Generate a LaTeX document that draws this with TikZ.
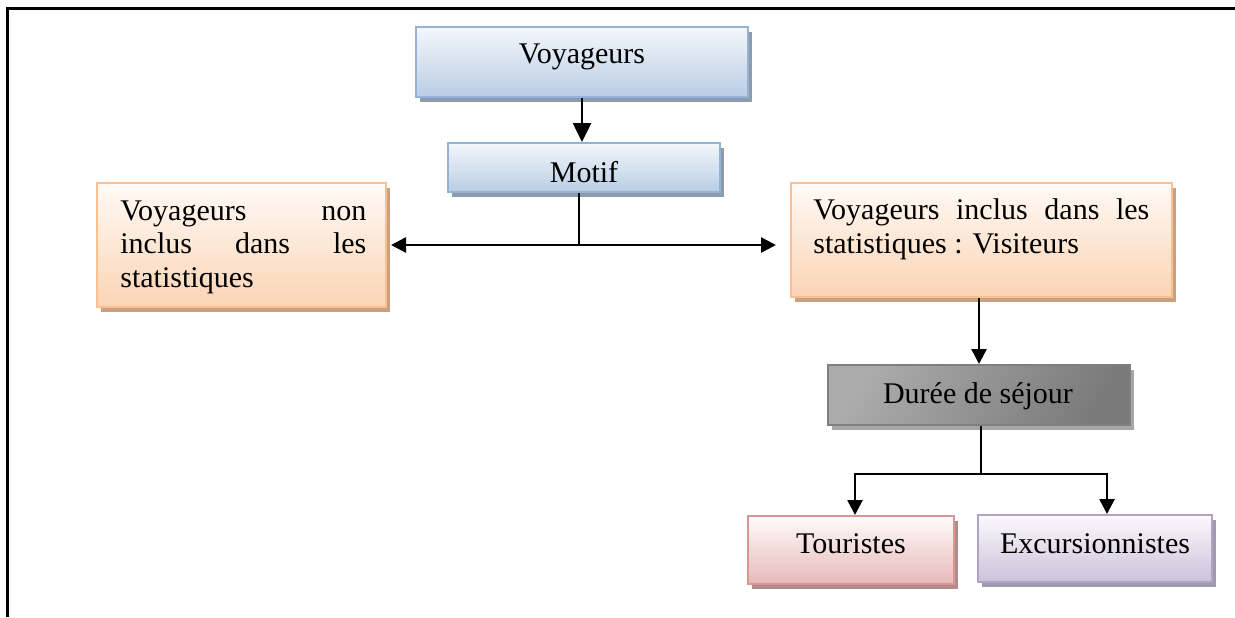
\documentclass[tikz,border=0pt]{standalone}
\usepackage{fontspec}
\setmainfont{Liberation Serif}
\usetikzlibrary{arrows.meta,shadows,calc}
\definecolor{bluebd}{HTML}{95B3D7}
\definecolor{bluebt}{HTML}{B9CDE5}
\definecolor{bluetp}{HTML}{F4F7FB}
\definecolor{bluesh}{HTML}{8E9BAD}
\definecolor{orbd}{HTML}{FAC090}
\definecolor{orbt}{HTML}{FBD4B4}
\definecolor{ortp}{HTML}{FFFAF6}
\definecolor{orsh}{HTML}{C9A080}
\definecolor{rdbd}{HTML}{D99694}
\definecolor{rdbt}{HTML}{E6B9B8}
\definecolor{rdtp}{HTML}{FFFBFB}
\definecolor{rdsh}{HTML}{B08C8B}
\definecolor{vibd}{HTML}{B3A2C7}
\definecolor{vibt}{HTML}{CCC1DA}
\definecolor{vitp}{HTML}{FBFAFD}
\definecolor{vish}{HTML}{A09AAB}
\definecolor{grbd}{HTML}{7F7F7F}
\definecolor{grsh}{HTML}{A6A6A6}
\tikzset{
  box/.style={draw, line width=1pt, inner sep=0pt},
  shad/.style={drop shadow={shadow xshift=2pt, shadow yshift=-2.5pt, fill=#1, opacity=1}},
  bluebox/.style={box, draw=bluebd, top color=bluetp, bottom color=bluebt, shad=bluesh},
  orbox/.style={box, draw=orbd, top color=ortp, bottom color=orbt, shad=orsh},
  rdbox/.style={box, draw=rdbd, top color=rdtp, bottom color=rdbt, shad=rdsh},
  vibox/.style={box, draw=vibd, top color=vitp, bottom color=vibt, shad=vish},
  grbox/.style={box, draw=grbd, left color=black!33, middle color=black!15, right color=black!52, shading angle=60, shad=grsh},
  lbl/.style={inner sep=0pt, font=\fontsize{15}{16.75}\selectfont},
  tip/.style={Triangle[length=7.5pt,width=7.5pt]},
  arr/.style={line width=1.3pt, -{Triangle[length=7.5pt,width=7.5pt]}},
  dbl/.style={line width=1.3pt, {Triangle[length=7.5pt,width=7.5pt]}-{Triangle[length=7.5pt,width=7.5pt]}},
  stem/.style={line width=0.9pt},
  frame/.style={line width=1.5pt}
}
\begin{document}
\begin{tikzpicture}[x=0.5pt,y=-0.5pt]
\useasboundingbox (0,0) rectangle (1235,617);
\draw[frame] (7,617) -- (7,8) -- (1236,8);

% boxes
\node[bluebox, minimum width=166pt, minimum height=35pt] (V) at (582,62) {};
\node[bluebox, minimum width=136pt, minimum height=24.5pt] (M) at (584,167.5) {};
\node[orbox, minimum width=144.5pt, minimum height=62pt] (L) at (241.5,245) {};
\node[orbox, minimum width=190.5pt, minimum height=57pt] (R) at (981.5,240) {};
\node[grbox, minimum width=151pt, minimum height=30pt] (D) at (979,395) {};
\node[rdbox, minimum width=103pt, minimum height=34pt] (T) at (851,550) {};
\node[vibox, minimum width=117pt, minimum height=33.5pt] (E) at (1095,548.5) {};

% texts
\node[lbl, anchor=base] (Vt) at (582,63) {Voyageurs};
\node[lbl, anchor=base] (Mt) at (584,182) {Motif};
\node[lbl, anchor=base] (Dt) at (978,403) {Durée de séjour};
\node[lbl, anchor=base] (Tt) at (851,553) {Touristes};
\node[lbl, anchor=base] (Et) at (1095,553) {Excursionnistes};
\node[lbl, anchor=base west, align=left] (Lt) at (120,287)
  {\makebox[123pt][s]{Voyageurs non}\\\makebox[123pt][s]{inclus dans les}\\statistiques};
\node[lbl, anchor=base west, align=left] (Rt) at (813,253)
  {\makebox[168pt][s]{Voyageurs inclus dans les}\\statistiques : Visiteurs};

% connectors
\draw[arr, -{Triangle[length=9.5pt,width=9pt]}] (V.south) -- (V.south |- M.north);
\coordinate (hj) at (579,245);
\draw[stem] (hj |- M.south) -- (hj);
\draw[dbl] ($(L.east |- hj)+(4,0)$) -- ($(R.west |- hj)+(-14,0)$);
\draw[arr] (D.north |- R.south) -- (D.north);
\coordinate (dj) at (981,474);
\coordinate (tl) at (855,474);
\coordinate (tr) at (1107,474);
\draw[line width=1.3pt] (dj |- D.south) -- (dj);
\draw[arr] (dj) -- (tl) -- (tl |- T.north);
\draw[arr] (dj) -- (tr) -- (tr |- E.north);
\end{tikzpicture}
\end{document}
